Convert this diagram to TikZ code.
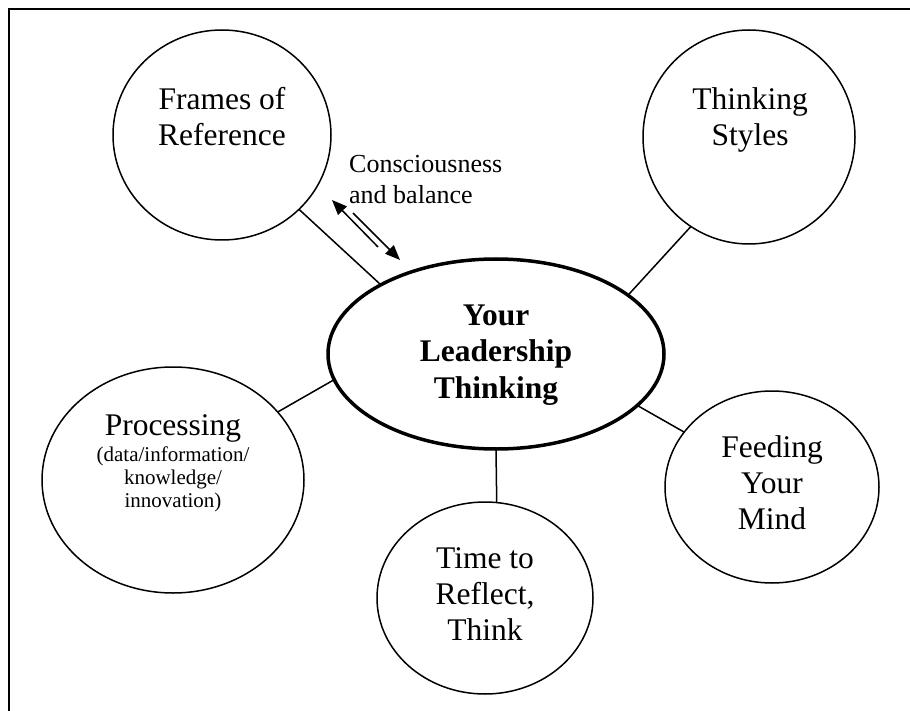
\documentclass[tikz,border=0pt]{standalone}
\usepackage{fontspec}
\setmainfont{Liberation Serif}
\usetikzlibrary{shapes.geometric,arrows.meta}
\begin{document}
\begin{tikzpicture}[x=1pt,y=-1pt,
  bubble/.style={ellipse,draw,line width=1.5pt,inner sep=0pt,outer sep=0pt},
  hub/.style={ellipse,draw,line width=3.5pt,inner sep=0pt,outer sep=0pt},
  link/.style={line width=1.5pt},
  dirarrow/.style={line width=1.5pt,-{Triangle[length=15pt,width=12pt]}},
  bigtext/.style={font=\fontsize{31.5}{36}\selectfont,align=center,anchor=base,inner sep=0pt},
  hubtext/.style={font=\bfseries\fontsize{31.5}{36.5}\selectfont,align=center,anchor=base,inner sep=0pt},
  subtext/.style={font=\fontsize{21}{23}\selectfont,align=center,anchor=base,inner sep=0pt},
  notetext/.style={font=\fontsize{26}{31}\selectfont,align=left,anchor=base west,inner sep=0pt}
]
\useasboundingbox (0,0) rectangle (910,711);
\draw[line width=2.5pt] (9,712) -- (9,9) -- (911,9);

% shapes
\node[bubble,minimum width=218pt,minimum height=210pt] (frames) at (222,135) {};
\node[bubble,minimum width=212pt,minimum height=214pt] (styles) at (749,137) {};
\node[hub,minimum width=336pt,minimum height=190pt] (hub) at (496,354) {};
\node[bubble,minimum width=262pt,minimum height=226pt] (proc) at (173,480) {};
\node[bubble,minimum width=214pt,minimum height=192pt] (feed) at (772,487) {};
\node[bubble,minimum width=216pt,minimum height=192pt] (time) at (485,598) {};

% texts (anchor = baseline of the last line)
\node[bigtext] (framesT) at (222,146) {Frames of\\Reference};
\node[bigtext] (stylesT) at (750,146) {Thinking\\Styles};
\node[hubtext] (hubT) at (496,398) {Your\\Leadership\\Thinking};
\node[bigtext] (procT) at (173,435) {Processing};
\node[subtext] (procS) at (173,507) {(data/information/\\knowledge/\\innovation)};
\node[bigtext] (feedT) at (772,529) {Feeding\\Your\\Mind};
\node[bigtext] (timeT) at (485,640) {Time to\\Reflect,\\Think};
\node[notetext] (note) at (349,204) {Consciousness\\and balance};

% connectors
\draw[link] (frames.-44.6) -- (hub.149.5);
\draw[link] (styles.237.6) -- (hub.24.3);
\draw[link] (proc.33.2) -- (hub.189.1);
\draw[link] (feed.148.8) -- (hub.-20);
\draw[link] (hub.-90) -- (time.83);

% consciousness arrows
\coordinate (a1s) at (378,247);
\coordinate (a1e) at (332,200);
\coordinate (a2s) at (353,213);
\coordinate (a2e) at (400,260);
\draw[dirarrow] (a1s) -- (a1e);
\draw[dirarrow] (a2s) -- (a2e);
\end{tikzpicture}
\end{document}
